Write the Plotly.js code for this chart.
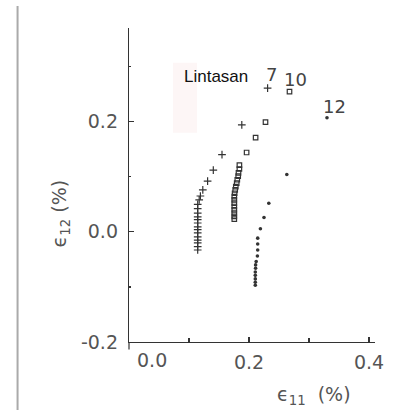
<!DOCTYPE html>
<html>
<head>
<meta charset="utf-8">
<script src="https://cdn.plot.ly/plotly-3.0.1.min.js"></script>
<style>
  html, body { margin: 0; padding: 0; background: #fff; }
  #chart { width: 406px; height: 410px; }
</style>
</head>
<body>
<div id="chart"></div>
<script>
// Strain path data: shear strain e12 against axial strain e11 (both in %)
const path7X = [0.231, 0.188, 0.155, 0.1405, 0.131, 0.123, 0.119, 0.117, 0.1145, 0.1145,
  0.1145, 0.1145, 0.1145, 0.1145, 0.1145, 0.1145, 0.1145, 0.1145, 0.1145, 0.1145, 0.1145, 0.1145];
const path7Y = [0.261, 0.194, 0.140, 0.112, 0.092, 0.076, 0.065, 0.058, 0.050, 0.042,
  0.034, 0.027, 0.022, 0.016, 0.009, 0.004, -0.002, -0.009, -0.015, -0.020, -0.027, -0.033];

const path10X = [0.2675, 0.2275, 0.211, 0.196, 0.184, 0.184, 0.1825, 0.182, 0.1805, 0.1795,
  0.178, 0.177, 0.176, 0.1755, 0.1755, 0.1755, 0.1755, 0.1755, 0.1755, 0.1755, 0.1755];
const path10Y = [0.2545, 0.199, 0.171, 0.144, 0.121, 0.114, 0.107, 0.101, 0.0945, 0.0885,
  0.082, 0.076, 0.070, 0.064, 0.058, 0.052, 0.046, 0.040, 0.034, 0.028, 0.023];

const path12X = [0.33, 0.263, 0.233, 0.225, 0.219, 0.2145, 0.2145, 0.2145, 0.214, 0.212,
  0.211, 0.211, 0.2105, 0.2105, 0.2105, 0.2105, 0.2105];
const path12Y = [0.207, 0.104, 0.052, 0.026, 0.0055, -0.0115, -0.022, -0.033, -0.044, -0.054,
  -0.060, -0.066, -0.073, -0.079, -0.0855, -0.0915, -0.097];

// Path labels and where they sit
const pathNames = ['7', '10', '12'];
const pathLabelX = [0.2367, 0.278, 0.342];
const pathLabelY = [0.2855, 0.276, 0.227];

// Axis ticks (labelled majors, unlabelled minors)
const xTickVals = [0.2, 0.4];
const xTickText = ['0.2', '0.4'];
const xMinorVals = [0.1, 0.3];
const yTickVals = [-0.2, 0.0, 0.2];
const yTickText = ['-0.2', '0.0', '0.2'];
const yMinorVals = [-0.1, 0.1, 0.3];

const ink = '#333';
const labelFont = { family: 'DejaVu Sans', size: 19, color: '#555' };

const traces = [
  { x: path7X, y: path7Y, mode: 'markers', type: 'scatter', name: pathNames[0],
    marker: { symbol: 'cross-thin', size: 5.5, line: { color: ink, width: 1.2 } } },
  { x: path10X, y: path10Y, mode: 'markers', type: 'scatter', name: pathNames[1],
    marker: { symbol: 'square-open', size: 4.5, color: ink, line: { color: ink, width: 1.2 } } },
  { x: path12X, y: path12Y, mode: 'markers', type: 'scatter', name: pathNames[2],
    marker: { symbol: 'circle', size: 3.6, color: ink } }
];

const annotations = pathNames.map((t, i) => ({
  x: pathLabelX[i], y: pathLabelY[i], xref: 'x', yref: 'y', text: t, showarrow: false,
  xanchor: 'center', yanchor: 'middle',
  font: { family: 'DejaVu Sans', size: 18, color: '#444' }
}));

annotations.push(
  { x: 0.145, y: 0.282, xref: 'x', yref: 'y', text: 'Lintasan', showarrow: false,
    xanchor: 'center', yanchor: 'middle',
    font: { family: 'Liberation Sans', size: 17, color: '#111' } },
  { x: 0.038, y: -0.057, xref: 'x', yref: 'paper', text: '0.0', showarrow: false,
    xanchor: 'center', yanchor: 'middle', font: labelFont },
  { x: 0.75, y: -0.17, xref: 'paper', yref: 'paper', text: 'ϵ<sub>11</sub>  (%)', showarrow: false,
    xanchor: 'center', yanchor: 'middle', font: labelFont },
  { x: -0.28, y: 0.41, xref: 'paper', yref: 'paper', text: 'ϵ<sub>12</sub> (%)', showarrow: false,
    textangle: -90, xanchor: 'center', yanchor: 'middle', font: labelFont }
);

const layout = {
  width: 406, height: 410,
  margin: { l: 129, r: 31, t: 28, b: 68 },
  paper_bgcolor: '#fff', plot_bgcolor: '#fff',
  showlegend: false,
  xaxis: {
    range: [0, 0.41], showgrid: false, zeroline: false,
    showline: true, linecolor: ink, linewidth: 1.2,
    tickmode: 'array', tickvals: xTickVals, ticktext: xTickText,
    ticks: 'inside', ticklen: 5, tickcolor: ink, tickwidth: 1.2,
    tickfont: labelFont, ticklabelstandoff: 3,
    minor: { tickmode: 'array', tickvals: xMinorVals, ticks: 'inside', ticklen: 4,
      tickcolor: ink, tickwidth: 1.2, showgrid: false }
  },
  yaxis: {
    range: [-0.2, 0.37], showgrid: false, zeroline: false,
    showline: true, linecolor: ink, linewidth: 1.2,
    tickmode: 'array', tickvals: yTickVals, ticktext: yTickText,
    ticks: 'inside', ticklen: 5, tickcolor: ink, tickwidth: 1.2,
    tickfont: labelFont, ticklabelstandoff: 6,
    minor: { tickmode: 'array', tickvals: yMinorVals, ticks: 'inside', ticklen: 2,
      tickcolor: ink, tickwidth: 1.2, showgrid: false }
  },
  shapes: [
    // faint tinted panel behind the caption
    { type: 'rect', xref: 'x', yref: 'y', x0: 0.0733, x1: 0.1133, y0: 0.18, y1: 0.307,
      fillcolor: '#fdf6f6', line: { width: 0 }, layer: 'below' },
    // short stub of the vertical axis below the horizontal axis
    { type: 'line', xref: 'paper', yref: 'paper', x0: 0, x1: 0, y0: 0, y1: -0.024,
      line: { color: ink, width: 1.2 } },
    // page margin rule on the left
    { type: 'line', xref: 'paper', yref: 'paper', x0: -0.453, x1: -0.453, y0: -0.22, y1: 1.07,
      line: { color: '#aaa', width: 2 } }
  ],
  annotations: annotations
};

Plotly.newPlot('chart', traces, layout, { displayModeBar: false, staticPlot: true });
</script>
</body>
</html>
